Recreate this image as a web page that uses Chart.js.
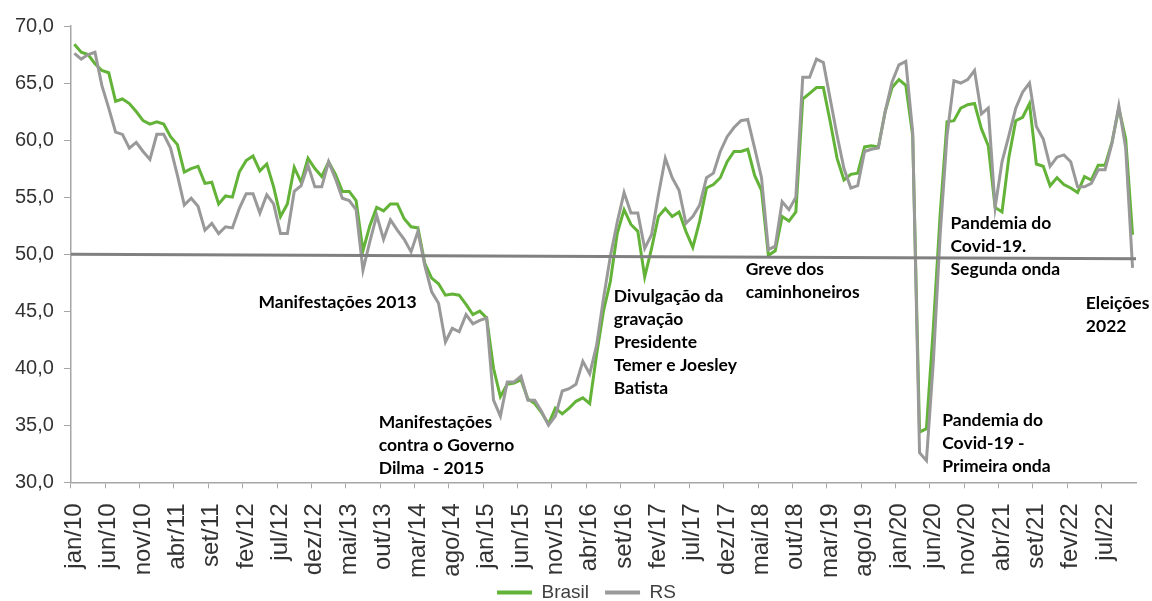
<!DOCTYPE html>
<html>
<head>
<meta charset="utf-8">
<script src="https://cdn.jsdelivr.net/npm/chart.js@4.4.1/dist/chart.umd.min.js"></script>
<style>
  html, body { margin: 0; padding: 0; background: #fff; }
  #wrap { width: 1152px; height: 601px; position: relative; }
</style>
</head>
<body>
<div id="wrap"><canvas id="chart"></canvas></div>
<script>
// monthly categories jan/10 .. nov/22
const months = ['jan', 'fev', 'mar', 'abr', 'mai', 'jun', 'jul', 'ago', 'set', 'out', 'nov', 'dez'];
const years = ['10', '11', '12', '13', '14', '15', '16', '17', '18', '19', '20', '21', '22'];
const categories = [];
years.forEach(y => months.forEach(m => categories.push(m + '/' + y)));
categories.splice(155);

const brasil = [
  68.4, 67.7, 67.5, 66.7, 66.1, 65.9, 63.4, 63.6, 63.2, 62.5, 61.7, 61.4,
  61.6, 61.4, 60.3, 59.6, 57.2, 57.5, 57.7, 56.2, 56.3, 54.4, 55.1, 55.0,
  57.2, 58.2, 58.6, 57.3, 57.9, 55.9, 53.3, 54.4, 57.6, 56.3, 58.4, 57.5,
  56.8, 58.1, 57.0, 55.5, 55.5, 54.7, 50.3, 52.5, 54.1, 53.8, 54.4, 54.4,
  53.1, 52.4, 52.3, 49.2, 47.9, 47.4, 46.4, 46.5, 46.4, 45.6, 44.7, 45.0,
  44.4, 40.0, 37.5, 38.6, 38.7, 39.0, 37.3, 36.9, 36.1, 35.1, 36.5, 36.0,
  36.5, 37.1, 37.4, 36.9, 41.2, 45.0, 47.6, 51.8, 53.9, 52.6, 52.0, 48.0,
  50.5, 53.3, 54.0, 53.3, 53.7, 52.0, 50.6, 52.9, 55.8, 56.1, 56.7, 58.1,
  59.0, 59.0, 59.2, 56.9, 55.6, 49.9, 50.3, 53.3, 52.9, 53.7, 63.6, 64.1,
  64.6, 64.6, 61.6, 58.4, 56.5, 57.0, 57.1, 59.4, 59.5, 59.4, 62.5, 64.6,
  65.3, 64.8, 60.4, 34.4, 34.7, 43.5, 53.5, 61.6, 61.7, 62.8, 63.1, 63.2,
  61.0, 59.5, 54.1, 53.7, 58.5, 61.7, 62.0, 63.2, 57.9, 57.7, 56.0, 56.7,
  56.1, 55.8, 55.4, 56.8, 56.5, 57.8, 57.8, 59.8, 62.8, 60.1, 51.7
];

const rs = [
  67.6, 67.1, 67.5, 67.7, 64.8, 62.8, 60.7, 60.5, 59.3, 59.8, 59.0, 58.3,
  60.5, 60.5, 59.3, 56.9, 54.3, 54.9, 54.2, 52.1, 52.7, 51.8, 52.4, 52.3,
  54.0, 55.3, 55.3, 53.6, 55.2, 54.4, 51.8, 51.8, 55.5, 56.0, 57.8, 55.9,
  55.9, 58.1, 56.6, 54.9, 54.7, 53.9, 48.6, 51.1, 53.4, 51.3, 53.0, 52.1,
  51.3, 50.2, 52.0, 49.0, 46.7, 45.7, 42.3, 43.5, 43.2, 44.7, 43.9, 44.2,
  44.4, 37.2, 35.8, 38.8, 38.8, 39.3, 37.2, 37.2, 36.2, 35.0, 35.8, 38.0,
  38.2, 38.6, 40.6, 39.5, 42.0, 46.1, 49.8, 52.8, 55.4, 53.6, 53.6, 50.5,
  51.7, 55.2, 58.4, 56.7, 55.6, 52.7, 53.3, 54.3, 56.7, 57.1, 59.0, 60.3,
  61.1, 61.7, 61.8, 59.3, 56.7, 50.4, 50.7, 54.6, 53.9, 55.0, 65.5, 65.5,
  67.1, 66.8, 63.6, 60.4, 57.5, 55.8, 56.0, 59.0, 59.2, 59.3, 62.5, 65.1,
  66.6, 66.9, 60.7, 32.6, 31.9, 40.5, 51.7, 60.4, 65.2, 65.0, 65.3, 66.1,
  62.3, 62.8, 54.1, 58.1, 60.4, 62.8, 64.2, 65.0, 61.2, 60.1, 57.7, 58.5,
  58.7, 58.1, 55.9, 55.9, 56.2, 57.4, 57.4, 59.7, 63.0, 59.3, 48.8
];

// the 50-point reference line (drawn from left edge to right edge of the axis)
const baseline = [{ x: 0, y: 50.0 }, { x: 1, y: 49.6 }];

// annotations: [category index, value of first line, lines]
const notes = [
  [26.8, 45.75, ['Manifestações 2013']],
  [44.3, 35.25, ['Manifestações', 'contra o Governo', 'Dilma  - 2015']],
  [78.5, 46.3, ['Divulgação da', 'gravação', 'Presidente', 'Temer e Joesley', 'Batista']],
  [97.7, 48.65, ['Greve dos', 'caminhoneiros']],
  [127.5, 52.7, ['Pandemia do', 'Covid-19.', 'Segunda onda']],
  [126.3, 35.45, ['Pandemia do', 'Covid-19 -', 'Primeira onda']],
  [147.2, 45.7, ['Eleições', '2022']]
];

const GREEN = '#62b337';
const GREY = '#999999';
const AXIS = '#a6a6a6';

const notesPlugin = {
  id: 'notes',
  afterDraw(chart) {
    const ctx = chart.ctx;
    const xs = chart.scales.x;
    const ys = chart.scales.y;
    ctx.save();
    ctx.font = 'bold 17.5px Lato';
    ctx.fillStyle = '#000';
    ctx.textBaseline = 'middle';
    ctx.textAlign = 'left';
    notes.forEach(n => {
      const x = xs.getPixelForValue(n[0]);
      const y = ys.getPixelForValue(n[1]);
      n[2].forEach((line, k) => ctx.fillText(line, x, y + k * 23));
    });
    ctx.restore();
  }
};

// pull the legend up, closer to the rotated month labels, and a bit to the right
const legendShift = {
  id: 'legendShift',
  afterLayout(chart) {
    chart.legend.top -= 26;
    chart.legend.bottom -= 26;
    chart.legend.left += 16;
    chart.legend.right += 16;
  }
};

const ctx = document.getElementById('chart');
new Chart(ctx, {
  type: 'line',
  data: {
    labels: categories,
    datasets: [
      {
        label: 'Brasil',
        data: brasil,
        borderColor: GREEN,
        backgroundColor: GREEN,
        borderWidth: 3,
        pointRadius: 0,
        tension: 0,
        order: 2
      },
      {
        label: 'RS',
        data: rs,
        borderColor: GREY,
        backgroundColor: GREY,
        borderWidth: 3,
        pointRadius: 0,
        tension: 0,
        order: 1
      },
      {
        label: 'base',
        data: baseline,
        xAxisID: 'x2',
        borderColor: '#808080',
        borderWidth: 3,
        pointRadius: 0,
        order: 0
      }
    ]
  },
  options: {
    responsive: true,
    maintainAspectRatio: false,
    animation: false,
    layout: { padding: { left: 5, right: 16, top: 26, bottom: -37 } },
    plugins: {
      tooltip: { enabled: false },
      legend: {
        position: 'bottom',
        labels: {
          boxWidth: 35,
          boxHeight: 4,
          padding: 16,
          color: '#404040',
          font: { family: 'Liberation Sans', size: 19 },
          filter: item => item.text !== 'base',
          sort: (a, b) => a.datasetIndex - b.datasetIndex,
          generateLabels: chart => Chart.defaults.plugins.legend.labels.generateLabels(chart)
            .map(l => Object.assign(l, { lineWidth: 0, fillStyle: l.strokeStyle }))
        }
      }
    },
    scales: {
      x: {
        type: 'category',
        offset: true,
        afterFit: scale => { scale.paddingRight = 0; },
        grid: {
          offset: true,
          drawOnChartArea: false,
          tickLength: 6,
          color: c => (c.index % 5 === 0 ? AXIS : 'rgba(0,0,0,0)')
        },
        border: { color: AXIS, width: 1.5 },
        ticks: {
          autoSkip: false,
          maxRotation: 90,
          minRotation: 90,
          padding: 15,
          color: '#333',
          font: { family: 'Liberation Sans', size: 24 },
          callback: (v, i) => (i % 5 === 0 ? categories[i] : '')
        }
      },
      x2: {
        type: 'linear',
        display: false,
        min: 0,
        max: 1
      },
      y: {
        min: 30,
        max: 70,
        grid: { drawOnChartArea: false, tickLength: 7, color: AXIS },
        border: { color: AXIS, width: 1.5 },
        ticks: {
          stepSize: 5,
          padding: 10,
          color: '#333',
          font: { family: 'Liberation Sans', size: 20 },
          callback: v => v.toFixed(1).replace('.', ',')
        }
      }
    }
  },
  plugins: [notesPlugin, legendShift]
});
</script>
</body>
</html>
